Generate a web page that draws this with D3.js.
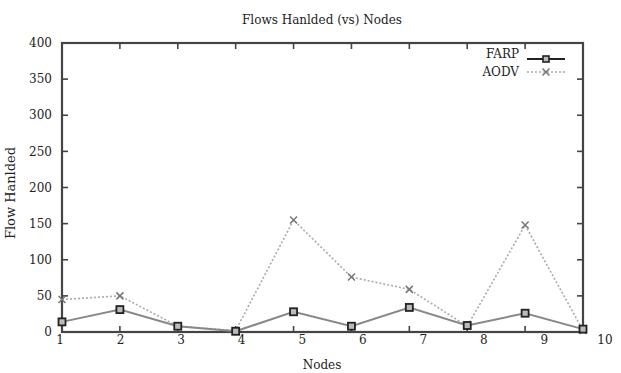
<!DOCTYPE html>
<html>
<head>
<meta charset="utf-8">
<script src="https://cdn.jsdelivr.net/npm/d3@7"></script>
<style>
  body { margin: 0; background: #fff; }
  text { font-family: "DejaVu Serif", "Liberation Serif", serif; fill: #222; }
</style>
</head>
<body>
<svg id="chart" width="621" height="373"></svg>
<script>
const nodes = [1, 2, 3, 4, 5, 6, 7, 8, 9, 10];
const farp = [14, 31, 8, 1, 28, 8, 34, 9, 26, 4];
const aodv = [45, 50, 8, 2, 155, 76, 59, 8, 148, 2];
const yTicks = [0, 50, 100, 150, 200, 250, 300, 350, 400];

const svg = d3.select('#chart');
const m = { left: 62, right: 583, top: 43, bottom: 332 };

const x = d3.scaleLinear().domain([1, 10]).range([m.left, m.right]);
// tick labels in the scan sit on a slightly wider spacing than the ticks
const xLab = d3.scaleLinear().domain([1, 10]).range([60, 605]);
const y = d3.scaleLinear().domain([0, 400]).range([m.bottom, m.top]);

const frameCol = '#444';
const tick = 6;

// ticks (inside, on all four sides)
const ticks = svg.append('g').attr('stroke', frameCol).attr('stroke-width', 1.6);
nodes.slice(1, -1).forEach(n => {
  ticks.append('line').attr('x1', x(n)).attr('x2', x(n)).attr('y1', m.bottom).attr('y2', m.bottom - tick);
  ticks.append('line').attr('x1', x(n)).attr('x2', x(n)).attr('y1', m.top).attr('y2', m.top + tick);
});
yTicks.slice(1, -1).forEach(v => {
  ticks.append('line').attr('x1', m.left).attr('x2', m.left + tick).attr('y1', y(v)).attr('y2', y(v));
  ticks.append('line').attr('x1', m.right).attr('x2', m.right - tick).attr('y1', y(v)).attr('y2', y(v));
});

svg.append('rect')
  .attr('x', m.left).attr('y', m.top)
  .attr('width', m.right - m.left).attr('height', m.bottom - m.top)
  .attr('fill', 'none').attr('stroke', frameCol).attr('stroke-width', 2.2);

// tick labels
svg.append('g').selectAll('text').data(yTicks).enter().append('text')
  .attr('x', 52).attr('y', d => y(d)).attr('dy', '0.35em')
  .attr('text-anchor', 'end').attr('font-size', 12).attr('fill', '#333')
  .text(d => d);

svg.append('g').selectAll('text').data(nodes).enter().append('text')
  .attr('x', d => xLab(d)).attr('y', 344)
  .attr('text-anchor', 'middle').attr('font-size', 12).attr('fill', '#333')
  .text(d => d);

// titles
svg.append('text').attr('x', 322).attr('y', 24).attr('text-anchor', 'middle')
  .attr('font-size', 12).text('Flows Hanlded (vs) Nodes');
svg.append('text').attr('x', 322).attr('y', 369).attr('text-anchor', 'middle')
  .attr('font-size', 12).text('Nodes');
svg.append('text').attr('transform', 'translate(15,193) rotate(-90)')
  .attr('text-anchor', 'middle').attr('font-size', 13).text('Flow Hanlded');

const line = d3.line().x((d, i) => x(nodes[i])).y(d => y(d));

// AODV
svg.append('path').datum(aodv).attr('d', line)
  .attr('fill', 'none').attr('stroke', '#aaa').attr('stroke-width', 1.6)
  .attr('stroke-dasharray', '2,2');

const cross = (g, cx, cy, s) => {
  g.append('path')
    .attr('d', `M${cx - s},${cy - s}L${cx + s},${cy + s}M${cx - s},${cy + s}L${cx + s},${cy - s}`)
    .attr('stroke', '#777').attr('stroke-width', 1.5).attr('fill', 'none');
};
const aodvPts = svg.append('g');
aodv.forEach((v, i) => cross(aodvPts, x(nodes[i]), y(v), 3.5));

// FARP
svg.append('path').datum(farp).attr('d', line)
  .attr('fill', 'none').attr('stroke', '#888').attr('stroke-width', 2);

svg.append('g').selectAll('rect').data(farp).enter().append('rect')
  .attr('x', (d, i) => x(nodes[i]) - 3.5).attr('y', d => y(d) - 3.5)
  .attr('width', 7).attr('height', 7)
  .attr('fill', '#bbb').attr('stroke', '#222').attr('stroke-width', 1.8);

// legend
const lg = svg.append('g');
lg.append('text').attr('x', 519).attr('y', 58).attr('text-anchor', 'end')
  .attr('font-size', 12).text('FARP');
lg.append('line').attr('x1', 527).attr('x2', 565).attr('y1', 59).attr('y2', 59)
  .attr('stroke', '#222').attr('stroke-width', 2);
lg.append('rect').attr('x', 543).attr('y', 56).attr('width', 6).attr('height', 6)
  .attr('fill', '#bbb').attr('stroke', '#222').attr('stroke-width', 1.6);
lg.append('text').attr('x', 519).attr('y', 76).attr('text-anchor', 'end')
  .attr('font-size', 12).text('AODV');
lg.append('line').attr('x1', 527).attr('x2', 565).attr('y1', 72).attr('y2', 72)
  .attr('stroke', '#aaa').attr('stroke-width', 1.6).attr('stroke-dasharray', '2,2');
cross(lg, 546, 72, 3.5);
</script>
</body>
</html>
